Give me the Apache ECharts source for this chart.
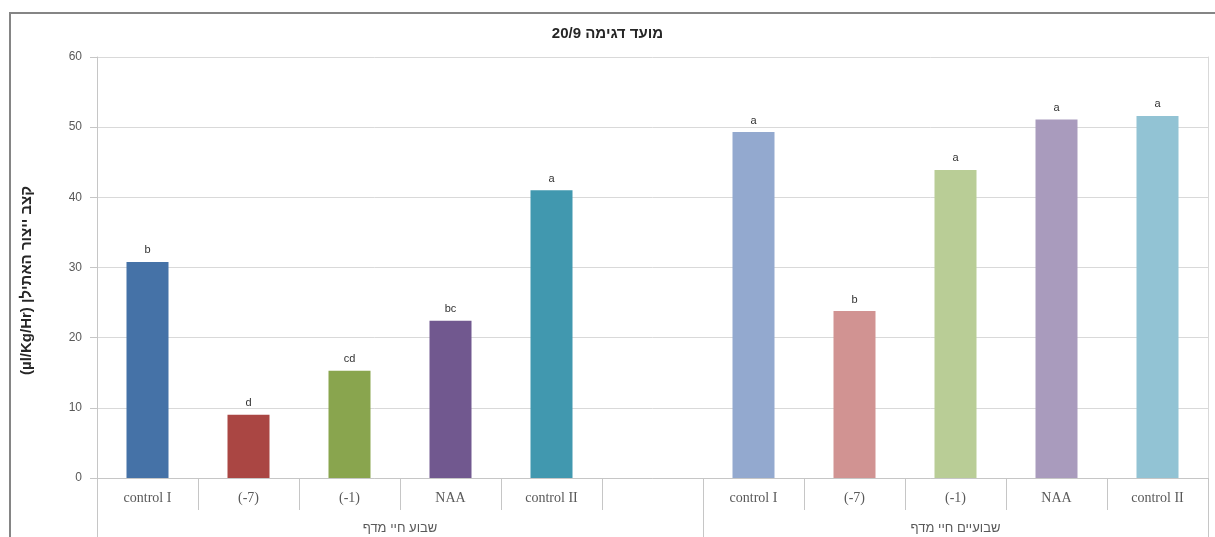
<!DOCTYPE html>
<html>
<head>
<meta charset="utf-8">
<script src="https://cdn.jsdelivr.net/npm/echarts@6/dist/echarts.min.js"></script>
<style>
  html, body { margin: 0; padding: 0; background: #ffffff; }
  #chart { width: 1215px; height: 537px; }
</style>
</head>
<body>
<div id="chart"></div>
<script>
// Ethylene production rate, sampling date 20/9
const titleText = 'מועד דגימה 20/9';
const yAxisTitle = '(µl/Kg/Hr) קצב ייצור האתילן';
const treatments = ['control I', '(-7)', '(-1)', 'NAA', 'control II'];
const groupNames = ['שבוע חיי מדף', 'שבועיים חיי מדף'];
const oneWeekValues = [30.8, 9.0, 15.3, 22.4, 41.0];
const twoWeekValues = [49.3, 23.8, 43.9, 51.1, 51.6];
const oneWeekLetters = ['b', 'd', 'cd', 'bc', 'a'];
const twoWeekLetters = ['a', 'b', 'a', 'a', 'a'];
const yMin = 0, yMax = 60, yStep = 10;

const oneWeekColors = ['#4572A7', '#AA4643', '#89A54E', '#71588F', '#4198AF'];
const twoWeekColors = ['#93A9CF', '#D19392', '#B9CD96', '#A99BBD', '#92C3D4'];

// one empty slot separates the two shelf-life groups
const categories = treatments.concat([''], treatments);
const values = oneWeekValues.concat(['-'], twoWeekValues);
const letters = oneWeekLetters.concat([''], twoWeekLetters);
const colors = oneWeekColors.concat(['#ffffff'], twoWeekColors);
const slotCount = categories.length;
const groupEdges = [0, treatments.length + 1, slotCount];
const groupCentres = [(treatments.length + 1) / 2, treatments.length + 1 + treatments.length / 2];

const axisGrey = '#c6c6c6';
const gridGrey = '#d9d9d9';
const textGrey = '#595959';

const chart = echarts.init(document.getElementById('chart'), null, { renderer: 'canvas' });
chart.setOption({
  backgroundColor: '#ffffff',
  animation: false,
  graphic: [{
    type: 'rect',
    shape: { x: 10, y: 13, width: 1400, height: 800 },
    style: { fill: 'none', stroke: '#858585', lineWidth: 2 },
    silent: true
  }],
  title: {
    text: titleText,
    left: 'center',
    top: 21,
    textStyle: { fontFamily: 'Liberation Sans', fontSize: 15, fontWeight: 'bold', color: '#262626' }
  },
  grid: { left: 97, right: 7, top: 57, bottom: 59, containLabel: false },
  xAxis: [{
    type: 'category',
    data: categories,
    position: 'bottom',
    boundaryGap: true,
    axisLine: { show: true, lineStyle: { color: axisGrey, width: 1 } },
    axisTick: { show: true, alignWithLabel: false, interval: 0, length: 32, lineStyle: { color: axisGrey } },
    axisLabel: {
      interval: 0, margin: 13,
      fontFamily: 'Liberation Serif', fontSize: 14, color: textGrey
    },
    splitLine: { show: false }
  }, {
    type: 'value',
    min: 0,
    max: slotCount,
    position: 'bottom',
    offset: 0,
    axisLine: { show: false },
    axisTick: { show: true, customValues: groupEdges, length: 59, lineStyle: { color: axisGrey } },
    axisLabel: {
      customValues: groupCentres,
      margin: 44,
      fontFamily: 'Liberation Sans', fontSize: 13, color: textGrey,
      formatter: function (v) { return v < groupEdges[1] ? groupNames[0] : groupNames[1]; }
    },
    splitLine: { show: false }
  }],
  yAxis: [{
    type: 'value',
    min: yMin,
    max: yMax,
    interval: yStep,
    name: yAxisTitle,
    nameLocation: 'middle',
    nameRotate: 90,
    nameGap: 63,
    nameTextStyle: { fontFamily: 'Liberation Sans', fontSize: 15, fontWeight: 'bold', color: '#262626', padding: [0, 26, 0, 0] },
    axisLine: { show: true, lineStyle: { color: axisGrey } },
    axisTick: { show: true, length: 7, lineStyle: { color: axisGrey } },
    axisLabel: { margin: 15, fontFamily: 'Liberation Sans', fontSize: 12, color: textGrey },
    splitLine: { show: true, lineStyle: { color: gridGrey, width: 1 } }
  }, {
    type: 'value',
    min: yMin,
    max: yMax,
    position: 'right',
    axisLine: { show: true, lineStyle: { color: gridGrey } },
    axisTick: { show: false },
    axisLabel: { show: false },
    splitLine: { show: false }
  }],
  series: [{
    type: 'bar',
    xAxisIndex: 0,
    yAxisIndex: 0,
    barWidth: 42,
    data: values.map(function (v, i) {
      return { value: v, itemStyle: { color: colors[i] } };
    }),
    label: {
      show: true,
      position: 'top',
      distance: 6,
      fontFamily: 'Liberation Sans',
      fontSize: 11,
      color: '#333333',
      formatter: function (p) { return letters[p.dataIndex]; }
    }
  }]
});
</script>
</body>
</html>
